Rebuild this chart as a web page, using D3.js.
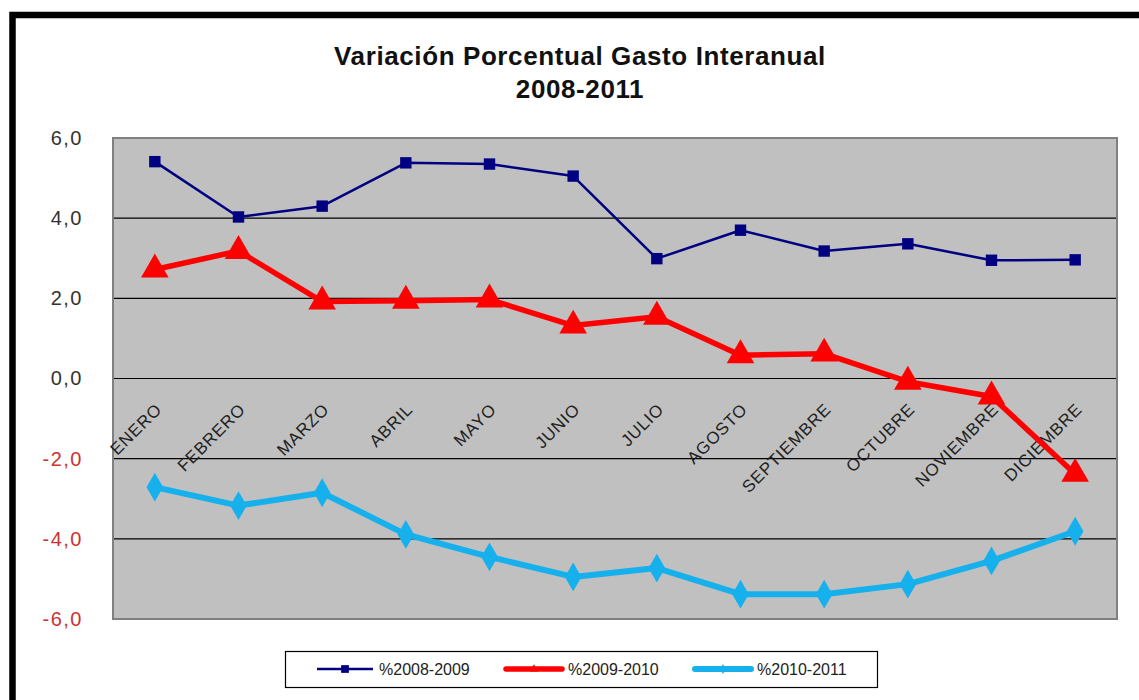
<!DOCTYPE html>
<head>
  <meta charset="utf-8">
  <script src="https://d3js.org/d3.v7.min.js"></script>
  <style type="text/css">
    body { margin: 0; background: #fff; }
    * { font-family: Arial, "Liberation Sans", sans-serif }
  </style>
</head>
<body>
<div id="my_dataviz"></div>
<script>

// data
var months = ["ENERO", "FEBRERO", "MARZO", "ABRIL", "MAYO", "JUNIO", "JULIO",
              "AGOSTO", "SEPTIEMBRE", "OCTUBRE", "NOVIEMBRE", "DICIEMBRE"];
var s0809 = [5.41, 4.03, 4.30, 5.38, 5.35, 5.05, 2.99, 3.70, 3.18, 3.36, 2.95, 2.96];
var s0910 = [2.72, 3.18, 1.92, 1.94, 1.97, 1.32, 1.54, 0.58, 0.62, -0.08, -0.45, -2.38];
var s1011 = [-2.71, -3.17, -2.85, -3.89, -4.45, -4.95, -4.73, -5.38, -5.38, -5.13, -4.55, -3.81];
var seriesNames = ["%2008-2009", "%2009-2010", "%2010-2011"];
var yTicks = [-6, -4, -2, 0, 2, 4, 6];
var title = ["Variación Porcentual Gasto Interanual", "2008-2011"];

var W = 1139, H = 700;
var plot = {left: 113, right: 1117, top: 138, bottom: 619};

var svg = d3.select("#my_dataviz")
  .append("svg")
    .attr("width", W)
    .attr("height", H);

// outer frame (only top and left edges visible)
svg.append("rect")
  .attr("x", 12.5).attr("y", 15)
  .attr("width", 1300).attr("height", 900)
  .attr("fill", "#fff")
  .attr("stroke", "#000")
  .attr("stroke-width", 6.5);

// title
svg.selectAll(".title")
  .data(title)
  .enter()
  .append("text")
    .attr("x", 580)
    .attr("y", function(d, i) { return 65 + i * 33; })
    .attr("text-anchor", "middle")
    .style("font-size", "26px")
    .style("font-weight", "bold")
    .style("letter-spacing", "0.6px")
    .style("fill", "#111")
    .text(function(d) { return d; });

var x = d3.scalePoint()
  .domain(months)
  .range([plot.left, plot.right])
  .padding(0.5);

var y = d3.scaleLinear()
  .domain([-6, 6])
  .range([plot.bottom, plot.top]);

// plot area
svg.append("rect")
  .attr("x", plot.left).attr("y", plot.top)
  .attr("width", plot.right - plot.left)
  .attr("height", plot.bottom - plot.top)
  .attr("fill", "#c0c0c0")
  .attr("stroke", "#808080")
  .attr("stroke-width", 2);

// gridlines
svg.selectAll(".grid")
  .data(yTicks.filter(function(t) { return t > -6 && t < 6; }))
  .enter()
  .append("line")
    .attr("x1", plot.left + 1).attr("x2", plot.right - 1)
    .attr("y1", function(d) { return y(d); })
    .attr("y2", function(d) { return y(d); })
    .attr("stroke", "#000")
    .attr("stroke-width", 1.2);

// y axis labels (comma decimals, plain hyphen for negatives)
var fmt = d3.format(".1f");
var yAxis = svg.append("g")
  .attr("transform", "translate(83,0)")
  .call(d3.axisLeft(y).tickValues(yTicks).tickSize(0)
        .tickFormat(function(d) { return fmt(d).replace(".", ",").replace("\u2212", "-"); }));
yAxis.select(".domain").remove();
yAxis.selectAll("text")
  .style("font-size", "20px")
  .style("letter-spacing", "1.5px")
  .attr("x", 0)
  .attr("fill", function(d) { return d < 0 ? "#cc3333" : "#333"; });

// month labels, rotated
svg.selectAll(".month")
  .data(months)
  .enter()
  .append("text")
    .attr("transform", function(d) { return "translate(" + (x(d) + 8) + "," + (y(0) + 32) + ") rotate(-45)"; })
    .attr("text-anchor", "end")
    .style("font-size", "17px")
    .style("letter-spacing", "0.8px")
    .style("fill", "#222")
    .text(function(d) { return d; });

var line = d3.line()
  .x(function(d, i) { return x(months[i]); })
  .y(function(d) { return y(d); });

var series = [
  {name: seriesNames[0], values: s0809, color: "#000080", width: 2.5, marker: d3.symbolSquare, size: 130, legendSize: 60},
  {name: seriesNames[1], values: s0910, color: "#ff0000", width: 5.5, marker: d3.symbolTriangle, size: 330, legendSize: 30},
  {name: seriesNames[2], values: s1011, color: "#16b1ec", width: 6, marker: d3.symbolDiamond, size: 240, legendSize: 30}
];

series.forEach(function(s) {
  svg.append("path")
    .datum(s.values)
    .attr("fill", "none")
    .attr("stroke", s.color)
    .attr("stroke-width", s.width)
    .attr("stroke-linejoin", "round")
    .attr("d", line);
  svg.selectAll(null)
    .data(s.values)
    .enter()
    .append("path")
      .attr("transform", function(d, i) { return "translate(" + x(months[i]) + "," + y(d) + ")"; })
      .attr("d", d3.symbol().type(s.marker).size(s.size))
      .attr("fill", s.color);
});

// legend
var legend = svg.append("g");
legend.append("rect")
  .attr("x", 285.5).attr("y", 651.5)
  .attr("width", 592).attr("height", 36)
  .attr("fill", "#fff")
  .attr("stroke", "#000")
  .attr("stroke-width", 1.2);
var legendX = [317, 506, 695];
series.forEach(function(s, i) {
  var lx = legendX[i];
  legend.append("line")
    .attr("x1", lx).attr("x2", lx + 56)
    .attr("y1", 669).attr("y2", 669)
    .attr("stroke", s.color)
    .attr("stroke-width", s.width)
    .attr("stroke-linecap", i > 0 ? "round" : "butt");
  legend.append("path")
    .attr("transform", "translate(" + (lx + 28) + ",669)")
    .attr("d", d3.symbol().type(s.marker).size(s.legendSize))
    .attr("fill", s.color);
  legend.append("text")
    .attr("x", lx + 62).attr("y", 675)
    .style("font-size", "16px")
    .style("fill", "#222")
    .text(s.name);
});

</script>
</body>
</html>
